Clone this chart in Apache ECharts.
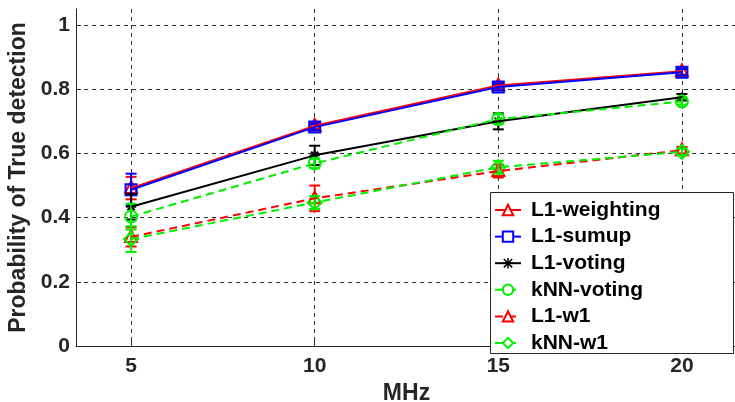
<!DOCTYPE html>
<html>
<head>
<meta charset="utf-8">
<script src="https://cdn.jsdelivr.net/npm/echarts@6/dist/echarts.min.js"></script>
<style>html,body{margin:0;padding:0;background:#fff}#c{width:735px;height:402px}</style>
</head>
<body>
<div id="c"></div>
<script>
const xValues = [5, 10, 15, 20];
const xTicks = [5, 10, 15, 20];
const yTicks = [0, 0.2, 0.4, 0.6, 0.8, 1];
const seriesNames = ['L1-weighting', 'L1-sumup', 'L1-voting', 'kNN-voting', 'L1-w1', 'kNN-w1'];
const l1Weighting = [0.492, 0.686, 0.812, 0.856];
const l1Sumup = [0.487, 0.682, 0.807, 0.853];
const l1Voting = [0.434, 0.594, 0.700, 0.775];
const knnVoting = [0.403, 0.569, 0.707, 0.762];
const l1W1 = [0.340, 0.460, 0.545, 0.610];
const knnW1 = [0.333, 0.447, 0.557, 0.605];
const errL1Weighting = [0.035, 0.010, 0.010, 0.010];
const errL1Sumup = [0.050, 0.010, 0.010, 0.010];
const errL1Voting = [0.040, 0.030, 0.025, 0.010];
const errKnnVoting = [0.040, 0.015, 0.015, 0.010];
const errL1W1 = [0.030, 0.040, 0.020, 0.010];
const errKnnW1 = [0.040, 0.020, 0.020, 0.010];

const FONT = 'Liberation Sans';
const TXT = '#262626';
const starPath = 'path://M4.3 0H5.7V10H4.3Z M0 4.3H10V5.7H0Z M0.5 1.5L1.5 0.5L9.5 8.5L8.5 9.5Z M8.5 0.5L9.5 1.5L1.5 9.5L0.5 8.5Z';

const defs = [
  {name: seriesNames[0], y: l1Weighting, e: errL1Weighting, color: '#ff0000', dash: 'solid', shape: 'triangle', sym: 'emptyTriangle'},
  {name: seriesNames[1], y: l1Sumup, e: errL1Sumup, color: '#0000ff', dash: 'solid', shape: 'square', sym: 'emptyRect'},
  {name: seriesNames[2], y: l1Voting, e: errL1Voting, color: '#000000', dash: 'solid', shape: 'star', sym: starPath},
  {name: seriesNames[3], y: knnVoting, e: errKnnVoting, color: '#00f000', dash: [8, 5], shape: 'circle', sym: 'emptyCircle'},
  {name: seriesNames[4], y: l1W1, e: errL1W1, color: '#ff0000', dash: [8, 5], shape: 'triangle', sym: 'emptyTriangle'},
  {name: seriesNames[5], y: knnW1, e: errKnnW1, color: '#00f000', dash: [8, 5], shape: 'diamond', sym: 'emptyDiamond'}
];

function marker(shape, x, y, st) {
  const s = 6;
  if (shape === 'triangle') return {type: 'polygon', shape: {points: [[x, y - s - 1], [x - s, y + s - 1], [x + s, y + s - 1]]}, style: st};
  if (shape === 'square') return {type: 'rect', shape: {x: x - 5.5, y: y - 5.5, width: 11, height: 11}, style: st};
  if (shape === 'circle') return {type: 'circle', shape: {cx: x, cy: y, r: 6}, style: st};
  if (shape === 'diamond') return {type: 'polygon', shape: {points: [[x, y - 7], [x + 7, y], [x, y + 7], [x - 7, y]]}, style: st};
  const r = 5, d = 3.6;
  return {type: 'group', children: [
    {type: 'line', shape: {x1: x - r, y1: y, x2: x + r, y2: y}, style: st},
    {type: 'line', shape: {x1: x, y1: y - r, x2: x, y2: y + r}, style: st},
    {type: 'line', shape: {x1: x - d, y1: y - d, x2: x + d, y2: y + d}, style: st},
    {type: 'line', shape: {x1: x - d, y1: y + d, x2: x + d, y2: y - d}, style: st}
  ]};
}

function makeRender(shape, color) {
  return function (params, api) {
    const x = api.value(0), y = api.value(1), e = api.value(2);
    const c = api.coord([x, y]);
    const t = api.coord([x, y + e]);
    const b = api.coord([x, y - e]);
    const cw = 5.5;
    const st = {stroke: color, fill: 'none', lineWidth: 2};
    return {type: 'group', children: [
      {type: 'line', shape: {x1: c[0], y1: t[1], x2: c[0], y2: b[1]}, style: st},
      {type: 'line', shape: {x1: c[0] - cw, y1: t[1], x2: c[0] + cw, y2: t[1]}, style: st},
      {type: 'line', shape: {x1: c[0] - cw, y1: b[1], x2: c[0] + cw, y2: b[1]}, style: st},
      marker(shape, c[0], c[1], st)
    ]};
  };
}

const series = [];
defs.forEach(function (d) {
  series.push({
    name: d.name, type: 'line', data: xValues.map((x, i) => [x, d.y[i]]),
    symbol: d.sym, symbolSize: 10, showSymbol: false, animation: false,
    lineStyle: {color: d.color, width: 2, type: d.dash},
    itemStyle: {color: d.color}, z: 2
  });
  series.push({
    name: d.name + '-markers', type: 'custom', renderItem: makeRender(d.shape, d.color),
    data: xValues.map((x, i) => [x, d.y[i], d.e[i]]), animation: false, z: 2,
    encode: {x: 0, y: 1}
  });
});

const chart = echarts.init(document.getElementById('c'), null, {renderer: 'canvas'});
chart.setOption({
  animation: false,
  backgroundColor: '#fff',
  grid: {left: 76, right: -2, top: 9, bottom: 56, containLabel: false, outerBoundsMode: 'none'},
  xAxis: {
    type: 'value', min: 3.5, max: 21.5,
    name: 'MHz', nameLocation: 'middle', nameGap: 36,
    nameTextStyle: {fontFamily: FONT, fontSize: 23, fontWeight: 'bold', color: TXT},
    axisLine: {show: true, onZero: false, lineStyle: {color: TXT, width: 1}},
    axisTick: {show: true, inside: true, length: 5, customValues: xTicks, lineStyle: {color: TXT}},
    axisLabel: {customValues: xTicks, margin: 10, fontFamily: FONT, fontSize: 21, fontWeight: 'bold', color: TXT},
    splitLine: {show: true, lineStyle: {color: '#333', width: 1, type: [4, 4]}}
  },
  yAxis: {
    type: 'value', min: 0, max: 1.05,
    name: 'Probability of True detection', nameLocation: 'middle', nameGap: 45,
    nameTextStyle: {fontFamily: FONT, fontSize: 23, fontWeight: 'bold', color: TXT},
    axisLine: {show: true, lineStyle: {color: TXT, width: 1}},
    axisTick: {show: true, inside: true, length: 5, customValues: yTicks, lineStyle: {color: TXT}},
    axisLabel: {customValues: yTicks, margin: 6, fontFamily: FONT, fontSize: 21, fontWeight: 'bold', color: TXT},
    splitLine: {show: true, lineStyle: {color: '#333', width: 1, type: [4, 4]}}
  },
  graphic: [{
    type: 'rect', left: 490, top: 192, z: 3,
    shape: {width: 243, height: 161},
    style: {fill: '#fff', stroke: TXT, lineWidth: 1}
  }],
  legend: {
    orient: 'vertical', left: 494, top: 199.5, padding: 0,
    itemWidth: 26, itemHeight: 13, itemGap: 5.6, selectedMode: false, z: 4,
    data: seriesNames,
    textStyle: {fontFamily: FONT, fontSize: 21, fontWeight: 'bold', color: '#000', padding: [0, 0, 0, 5]}
  },
  series: series
});
</script>
</body>
</html>
